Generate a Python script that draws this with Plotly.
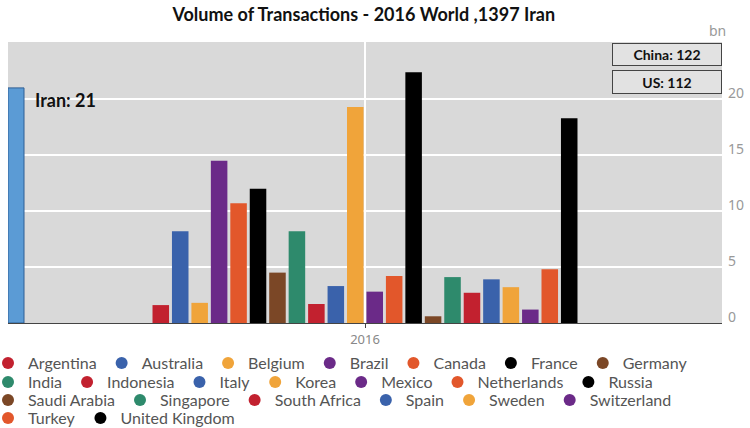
import plotly.graph_objects as go

countries = ["Argentina", "Australia", "Belgium", "Brazil", "Canada", "France", "Germany",
             "India", "Indonesia", "Italy", "Korea", "Mexico", "Netherlands", "Russia",
             "Saudi Arabia", "Singapore", "South Africa", "Spain", "Sweden", "Switzerland",
             "Turkey", "United Kingdom"]
values = [1.6, 8.2, 1.8, 14.5, 10.7, 12.0, 4.5,
          8.2, 1.7, 3.3, 19.3, 2.8, 4.2, 22.4,
          0.6, 4.1, 2.7, 3.9, 3.2, 1.2,
          4.8, 18.3]
palette = ["#c2212f", "#3a62ab", "#f0a43a", "#6b2a88", "#e2572b", "#000000", "#7b4726", "#2e8a6c"]
colors = [palette[i % 8] for i in range(len(countries))]
year = "2016"
iran_value = 21
china_value = 122
us_value = 112
legend_rows = [7, 7, 6, 2]

fig = go.Figure()
for c, v, col in zip(countries, values, colors):
    fig.add_trace(go.Bar(x=[year], y=[v], name=c, showlegend=False,
                         marker=dict(color=col, line=dict(width=0))))

# legend entries (circle symbols), one legend per row
legend_names = []
for r, n in enumerate(legend_rows):
    legend_names += [("legend" if r == 0 else f"legend{r+1}")] * n
for c, col, lg in zip(countries, colors, legend_names):
    fig.add_trace(go.Scatter(x=[None], y=[None], mode="markers", name=c, legend=lg,
                             marker=dict(symbol="circle", size=12, color=col)))

fig.add_trace(go.Bar(x=[0], y=[iran_value], width=[1], xaxis="x2", showlegend=False,
                     marker=dict(color="#5b9bd5", line=dict(color="#2f5f95", width=1))))

row_centers = [363, 382, 400, 418]
plot_bottom, plot_h = 323, 281
legend_style = dict(orientation="h", x=-0.028, xanchor="left", yanchor="middle",
                    font=dict(family="Lato", size=16, color="#555"), itemwidth=30,
                    bgcolor="rgba(0,0,0,0)")
legends = {}
for r, yc in enumerate(row_centers):
    key = "legend" if r == 0 else f"legend{r+1}"
    legends[key] = dict(legend_style, y=-(yc - plot_bottom) / plot_h)

fig.update_layout(
    width=750, height=428,
    margin=dict(l=8, r=28, t=42, b=105, autoexpand=False),
    paper_bgcolor="white", plot_bgcolor="#d9d9d9",
    barmode="group", bargap=0.161, bargroupgap=0.15,
    title=dict(text="<b>Volume of Transactions - 2016 World ,1397 Iran</b>",
               x=0.485, xanchor="center", y=0.965, yanchor="middle",
               font=dict(family="Lato", size=18, color="#111")),
    xaxis=dict(type="category", range=[-0.7, 0.7], showgrid=True, gridcolor="white", gridwidth=2,
               showline=True, linecolor="#444", linewidth=1, ticks="outside", ticklen=4,
               tickcolor="#444", tickfont=dict(family="Noto Sans", size=13, color="#888")),
    xaxis2=dict(overlaying="x", range=[-0.5, 44.1], visible=False),
    yaxis=dict(side="right", range=[0, 25.1], tickvals=[0, 5, 10, 15, 20], showgrid=True,
               gridcolor="white", gridwidth=2, zeroline=False, showline=False,
               ticklabelshift=-6, ticklabelstandoff=5,
               tickfont=dict(family="Noto Sans", size=14, color="#999")),
    showlegend=True,
    **legends,
)

fig.add_annotation(text=f"<b>Iran: {iran_value}</b>", xref="paper", yref="y", x=0.035, y=19.9,
                   xanchor="left", yanchor="middle", showarrow=False,
                   font=dict(family="Lato", size=18, color="#111"))
fig.add_annotation(text=f"<b>China: {china_value}</b>", xref="paper", yref="paper", x=1.0, y=0.997,
                   xanchor="right", yanchor="top", showarrow=False, width=106, height=19,
                   bgcolor="#e2e2e2", bordercolor="#444", borderwidth=1,
                   font=dict(family="Lato", size=14, color="#111"))
fig.add_annotation(text=f"<b>US: {us_value}</b>", xref="paper", yref="paper", x=1.0, y=0.9,
                   xanchor="right", yanchor="top", showarrow=False, width=106, height=20,
                   bgcolor="#e2e2e2", bordercolor="#444", borderwidth=1,
                   font=dict(family="Lato", size=14, color="#111"))
fig.add_annotation(text="bn", xref="paper", yref="paper", x=0.979, y=1.0, xanchor="left",
                   yanchor="bottom", showarrow=False,
                   font=dict(family="Noto Sans", size=14, color="#999"))

fig.write_html("out.html")
